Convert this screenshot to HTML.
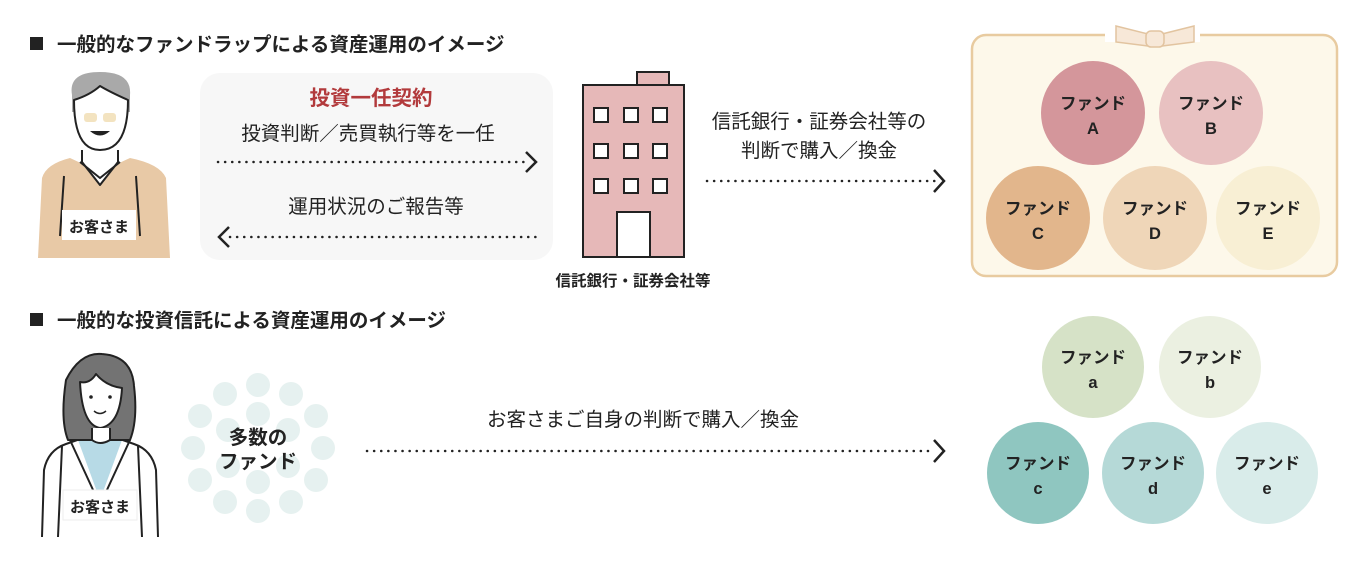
<!DOCTYPE html>
<html><head><meta charset="utf-8"><style>
html,body{margin:0;padding:0;background:#fff;}
svg{display:block;}
text{font-family:"Liberation Sans","Noto Sans CJK JP",sans-serif;fill:#222;}
.b{font-weight:bold;}
</style></head><body>
<svg width="1370" height="570" viewBox="0 0 1370 570" xmlns="http://www.w3.org/2000/svg">
<!-- Titles -->
<rect x="30" y="37" width="13" height="13" fill="#222"/>
<text x="57" y="51" font-size="19.5" class="b">一般的なファンドラップによる資産運用のイメージ</text>
<rect x="30" y="313" width="13" height="13" fill="#222"/>
<text x="57" y="327" font-size="19.5" class="b">一般的な投資信託による資産運用のイメージ</text>

<!-- Man -->
<g stroke="#222" stroke-width="2" stroke-linejoin="round">
<path d="M38 258 L42 178 Q46 164 70 158 L100 172 L130 158 Q160 164 166 178 L170 258 Z" fill="#e8c9a6" stroke="none"/>
<path d="M82 150 L82 162 L100 185 L118 162 L118 150" fill="#fff"/>
<path d="M80 162 L100 178 L120 162" fill="none"/>
<path d="M72 95 Q68 72 100 72 Q132 72 130 95 L130 112 L72 112 Z" fill="#a9a9a9" stroke="none"/>
<path d="M74 100 Q74 150 100 150 Q128 150 128 100 Q110 92 100 86 Q90 95 74 100 Z" fill="#fff"/>
<path d="M64 176 L60 236 M136 176 L140 236" fill="none"/>
</g>
<rect x="84" y="113" width="13" height="9" rx="3" fill="#f3e3c0"/>
<rect x="103" y="113" width="13" height="9" rx="3" fill="#f3e3c0"/>
<path d="M90 131 Q100 140 110 131 Z" fill="#222"/>
<rect x="62" y="210" width="74" height="30" fill="#fff"/>
<text x="99" y="232" font-size="15" class="b" text-anchor="middle">お客さま</text>

<!-- Gray box -->
<rect x="200" y="73" width="353" height="187" rx="20" fill="#f7f7f7"/>
<text x="371" y="105" font-size="20.5" class="b" text-anchor="middle" style="fill:#b23a3c">投資一任契約</text>
<text x="368" y="140" font-size="19.5" text-anchor="middle">投資判断／売買執行等を一任</text>
<line x1="218" y1="162" x2="528" y2="162" stroke="#222" stroke-width="2.5" stroke-dasharray="0.1 7" stroke-linecap="round"/>
<path d="M526 152 L536 162 L526 172" fill="none" stroke="#222" stroke-width="2.5"/>
<text x="376" y="213" font-size="19.5" text-anchor="middle">運用状況のご報告等</text>
<line x1="230" y1="237" x2="538" y2="237" stroke="#222" stroke-width="2.5" stroke-dasharray="0.1 7" stroke-linecap="round"/>
<path d="M229 227 L219 237 L229 247" fill="none" stroke="#222" stroke-width="2.5"/>

<!-- Building -->
<g stroke="#222" stroke-width="2">
<rect x="637" y="72" width="32" height="13" fill="#e6b8b8"/>
<rect x="583" y="85" width="101" height="172" fill="#e6b8b8"/>
<g fill="#fff">
<rect x="594" y="108" width="14" height="14"/><rect x="624" y="108" width="14" height="14"/><rect x="653" y="108" width="14" height="14"/>
<rect x="594" y="144" width="14" height="14"/><rect x="624" y="144" width="14" height="14"/><rect x="653" y="144" width="14" height="14"/>
<rect x="594" y="179" width="14" height="14"/><rect x="624" y="179" width="14" height="14"/><rect x="653" y="179" width="14" height="14"/>
<rect x="617" y="212" width="33" height="45"/>
</g></g>
<text x="633" y="286" font-size="15.5" class="b" text-anchor="middle">信託銀行・証券会社等</text>

<text x="819" y="128" font-size="19.5" text-anchor="middle">信託銀行・証券会社等の</text>
<text x="819" y="157" font-size="19.5" text-anchor="middle">判断で購入／換金</text>
<line x1="707" y1="181" x2="935" y2="181" stroke="#222" stroke-width="2.5" stroke-dasharray="0.1 7" stroke-linecap="round"/>
<path d="M934 170 L944 181 L934 192" fill="none" stroke="#222" stroke-width="2.5"/>

<!-- Wrap box -->
<rect x="972" y="35" width="365" height="241" rx="14" fill="#fdf8ea" stroke="#e8cba0" stroke-width="2.5"/>
<rect x="1105" y="28" width="95" height="14" fill="#fff"/>
<g fill="#f7e8d8" stroke="#e2c4a0" stroke-width="1.5">
<path d="M1116 26 L1148 34 L1148 46 L1116 42 Z"/>
<path d="M1194 26 L1162 34 L1162 46 L1194 42 Z"/>
<rect x="1146" y="31" width="18" height="16" rx="5"/>
</g>
<g font-size="16.5" text-anchor="middle">
<circle cx="1093" cy="113" r="52" fill="#d4969b"/>
<circle cx="1211" cy="113" r="52" fill="#e8c1c1"/>
<circle cx="1038" cy="218" r="52" fill="#e2b68c"/>
<circle cx="1155" cy="218" r="52" fill="#efd6b8"/>
<circle cx="1268" cy="218" r="52" fill="#f8efd4"/>
<text x="1093" y="109" class="b">ファンド</text><text x="1093" y="134" class="b">A</text>
<text x="1211" y="109" class="b">ファンド</text><text x="1211" y="134" class="b">B</text>
<text x="1038" y="214" class="b">ファンド</text><text x="1038" y="239" class="b">C</text>
<text x="1155" y="214" class="b">ファンド</text><text x="1155" y="239" class="b">D</text>
<text x="1268" y="214" class="b">ファンド</text><text x="1268" y="239" class="b">E</text>
</g>

<!-- Woman -->
<g stroke="#222" stroke-width="2" stroke-linejoin="round">
<path d="M42 537 L44 470 Q48 450 66 444 L100 432 L134 444 Q152 450 156 470 L158 537" fill="#fff"/>
<path d="M78 440 L100 500 L122 440 Z" fill="#b7dae6" stroke="none"/>
<path d="M70 440 L100 505 L130 440" fill="none"/>
<path d="M68 440 Q60 420 66 380 Q80 352 102 354 Q132 356 134 386 Q138 420 130 440 Z" fill="#737373"/>
<path d="M80 382 Q82 425 100 428 Q120 425 122 388 Q106 386 96 374 Q90 384 80 382 Z" fill="#fff"/>
<path d="M92 428 L92 440 Q100 446 110 440 L110 428" fill="#fff"/>
<path d="M62 446 L58 537 M138 446 L142 537" fill="none"/>
</g>
<circle cx="91" cy="397" r="1.8" fill="#222"/><circle cx="110" cy="397" r="1.8" fill="#222"/>
<path d="M94 411 Q100 416 106 411" fill="none" stroke="#222" stroke-width="1.5"/>
<rect x="63" y="490" width="74" height="30" fill="#fff" stroke="#eee"/>
<text x="100" y="512" font-size="15" class="b" text-anchor="middle">お客さま</text>

<!-- Fund cluster -->
<g fill="#e6f1f0">
<circle cx="258" cy="385" r="12"/><circle cx="258" cy="511" r="12"/>
<circle cx="225" cy="394" r="12"/><circle cx="291" cy="394" r="12"/>
<circle cx="200" cy="416" r="12"/><circle cx="316" cy="416" r="12"/>
<circle cx="193" cy="448" r="12"/><circle cx="323" cy="448" r="12"/>
<circle cx="200" cy="480" r="12"/><circle cx="316" cy="480" r="12"/>
<circle cx="225" cy="502" r="12"/><circle cx="291" cy="502" r="12"/>
<circle cx="258" cy="414" r="12"/><circle cx="258" cy="482" r="12"/>
<circle cx="228" cy="430" r="12"/><circle cx="288" cy="430" r="12"/>
<circle cx="228" cy="466" r="12"/><circle cx="288" cy="466" r="12"/>
</g>
<text x="258" y="444" font-size="19.5" class="b" text-anchor="middle">多数の</text>
<text x="258" y="468" font-size="19.5" class="b" text-anchor="middle">ファンド</text>

<text x="643" y="426" font-size="19.5" text-anchor="middle">お客さまご自身の判断で購入／換金</text>
<line x1="367" y1="451" x2="935" y2="451" stroke="#222" stroke-width="2.5" stroke-dasharray="0.1 7" stroke-linecap="round"/>
<path d="M934 440 L944 451 L934 462" fill="none" stroke="#222" stroke-width="2.5"/>

<g font-size="16.5" text-anchor="middle">
<circle cx="1093" cy="367" r="51" fill="#d6e2c7"/>
<circle cx="1210" cy="367" r="51" fill="#ebf0e1"/>
<circle cx="1038" cy="473" r="51" fill="#8fc6c0"/>
<circle cx="1153" cy="473" r="51" fill="#b5d9d7"/>
<circle cx="1267" cy="473" r="51" fill="#d9ecea"/>
<text x="1093" y="363" class="b">ファンド</text><text x="1093" y="388" class="b">a</text>
<text x="1210" y="363" class="b">ファンド</text><text x="1210" y="388" class="b">b</text>
<text x="1038" y="469" class="b">ファンド</text><text x="1038" y="494" class="b">c</text>
<text x="1153" y="469" class="b">ファンド</text><text x="1153" y="494" class="b">d</text>
<text x="1267" y="469" class="b">ファンド</text><text x="1267" y="494" class="b">e</text>
</g>
</svg>
</body></html>
